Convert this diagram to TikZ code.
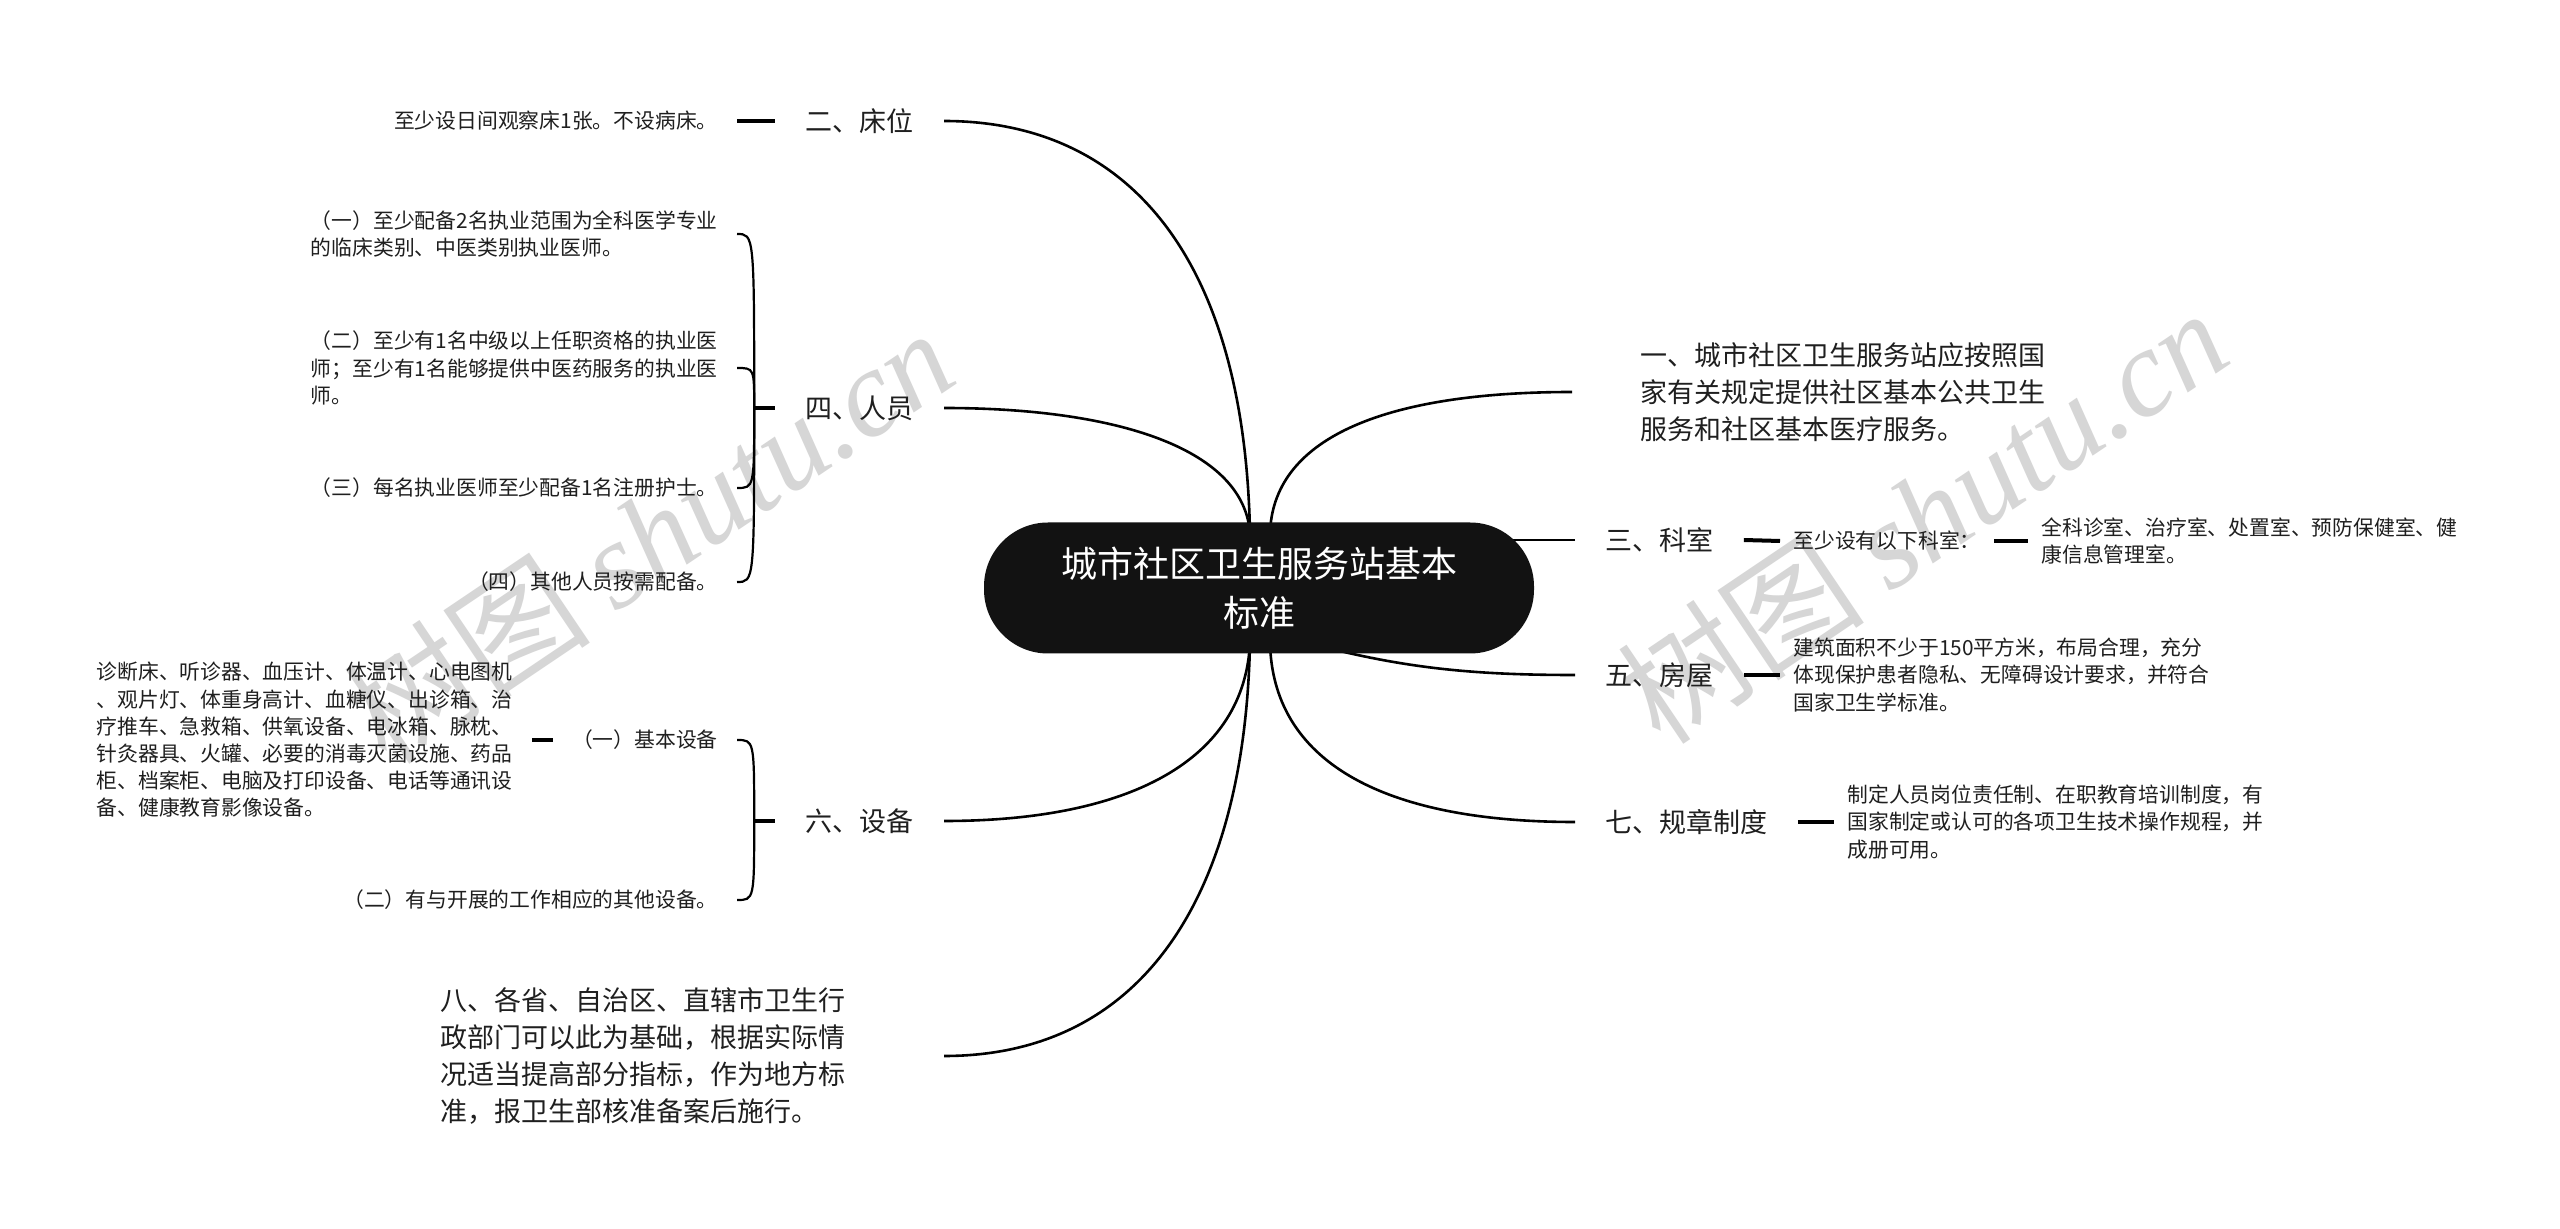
\documentclass[tikz,border=0pt]{standalone}
\usepackage{fontspec}
\setmainfont{Noto Sans CJK SC}
\newfontfamily\wmserif{Liberation Serif}
\usetikzlibrary{calc,backgrounds}
\tikzset{
  ctr/.style={fill=black!93, text=white, rounded corners=32pt, minimum width=275pt,
    minimum height=65.5pt, font=\fontsize{18}{24.5}\selectfont, align=center, inner sep=0pt},
  lab/.style={font=\fontsize{13.5}{18.5}\selectfont, inner xsep=15pt, inner ysep=2pt,
    text=black!88, align=left},
  sml/.style={font=\fontsize{10.4}{13.6}\selectfont, inner ysep=1pt, text=black!88, align=left},
  lsml/.style={sml, inner xsep=9.5pt, anchor=east},
  rsml/.style={sml, inner xsep=6.5pt, anchor=west},
  branch/.style={line width=1.3pt},
  dashline/.style={line width=2pt},
  brace/.style={line width=1.1pt},
  wmark/.style={rotate=34, text=black!16, font=\fontsize{62}{62}\selectfont},
}
\begin{document}
\begin{tikzpicture}[x=0.5pt,y=-0.5pt]
\useasboundingbox (0,0) rectangle (2560,1229);

% centre
\node[ctr] (c) at (1259,588) {城市社区卫生服务站基本\\标准};

% first-level labels
\node[lab,anchor=east] (n2) at (944,121) {二、床位};
\node[lab,anchor=east] (n4) at (944,408) {四、人员};
\node[lab,anchor=east] (n6) at (944,821) {六、设备};
\node[lab,anchor=east,inner xsep=49pt] (n8) at (944,1056) {八、各省、自治区、直辖市卫生行\\政部门可以此为基础，根据实际情\\况适当提高部分指标，作为地方标\\准，报卫生部核准备案后施行。};
\node[lab,anchor=west,inner xsep=34pt] (n1) at (1572,392) {一、城市社区卫生服务站应按照国\\家有关规定提供社区基本公共卫生\\服务和社区基本医疗服务。};
\node[lab,anchor=west] (n3) at (1575,540) {三、科室};
\node[lab,anchor=west] (n5) at (1575,675) {五、房屋};
\node[lab,anchor=west] (n7) at (1575,822) {七、规章制度};

% right children
\node[rsml] (n3a) at (1780,541) {至少设有以下科室：};
\node[rsml] (n3b) at (2028,541) {全科诊室、治疗室、处置室、预防保健室、健\\康信息管理室。};
\node[rsml] (n5a) at (1780,675) {建筑面积不少于150平方米，布局合理，充分\\体现保护患者隐私、无障碍设计要求，并符合\\国家卫生学标准。};
\node[rsml] (n7a) at (1834,822) {制定人员岗位责任制、在职教育培训制度，有\\国家制定或认可的各项卫生技术操作规程，并\\成册可用。};

% left children
\node[lsml] (n2a) at (737,121) {至少设日间观察床1张。不设病床。};
\node[lsml] (n4a) at (737,234) {（一）至少配备2名执业范围为全科医学专业\\的临床类别、中医类别执业医师。};
\node[lsml] (n4b) at (737,368) {（二）至少有1名中级以上任职资格的执业医\\师；至少有1名能够提供中医药服务的执业医\\师。};
\node[lsml] (n4c) at (737,488) {（三）每名执业医师至少配备1名注册护士。};
\node[lsml] (n4d) at (737,582) {（四）其他人员按需配备。};
\node[lsml] (n6a) at (737,740) {（一）基本设备};
\node[lsml] (n6b) at (737,900) {（二）有与开展的工作相应的其他设备。};
\node[lsml] (n6c) at (532,740) {诊断床、听诊器、血压计、体温计、心电图机\\、观片灯、体重身高计、血糖仪、出诊箱、治\\疗推车、急救箱、供氧设备、电冰箱、脉枕、\\针灸器具、火罐、必要的消毒灭菌设施、药品\\柜、档案柜、电脑及打印设备、电话等通讯设\\备、健康教育影像设备。};

\begin{pgfonlayer}{background}
  \fill[white] (0,0) rectangle (2560,1229);
  \node[wmark] (w1) at (648,535) {树图 {\wmserif\itshape shutu.cn}};
  \node[wmark] (w2) at (1922,515) {树图 {\wmserif\itshape shutu.cn}};
  % main branches
  \draw[branch] (n2.east) .. controls (1130,121) and (1245,260) .. ($(c.north)+(-9,12)$);
  \draw[branch] (n4.east) .. controls (1120,408) and (1245,450) .. ($(c.north)+(-9,12)$);
  \draw[branch] (n6.east) .. controls (1130,821) and (1245,760) .. ($(c.south)+(-9,-12)$);
  \draw[branch] (n8.east) .. controls (1140,1056) and (1245,900) .. ($(c.south)+(-9,-12)$);
  \draw[branch] (n1.west) .. controls (1380,392) and (1272,440) .. ($(c.north)+(11,12)$);
  \draw[branch] (n3.west) -- ($(c.east)+(-40,-48)$);
  \draw[branch] (n5.west) .. controls (1470,675) and (1400,668) .. ($(c.south)+(41,-13)$);
  \draw[branch] (n7.west) .. controls (1380,822) and (1272,760) .. ($(c.south)+(11,-12)$);
\end{pgfonlayer}

% short dashes
\draw[dashline] (n2a.east) -- (n2.west);
\draw[dashline] (n3.east) -- (n3a.west);
\draw[dashline] (n3a.east) -- (n3b.west);
\draw[dashline] (n5.east) -- (n5a.west);
\draw[dashline] (n7.east) -- (n7a.west);
\draw[dashline] (n6c.east) -- (n6a.west);

% brackets
\coordinate (j4) at ($(n4.west)+(-21,0)$);
\draw[dashline] (j4) -- (n4.west);
\foreach \k in {n4a,n4b,n4c,n4d}
  \draw[brace] (j4) .. controls (j4 |- \k.east) and (j4 |- \k.east) .. (\k.east);
\coordinate (j6) at ($(n6.west)+(-21,0)$);
\draw[dashline] (j6) -- (n6.west);
\foreach \k in {n6a,n6b}
  \draw[brace] (j6) .. controls (j6 |- \k.east) and (j6 |- \k.east) .. (\k.east);
\end{tikzpicture}
\end{document}
